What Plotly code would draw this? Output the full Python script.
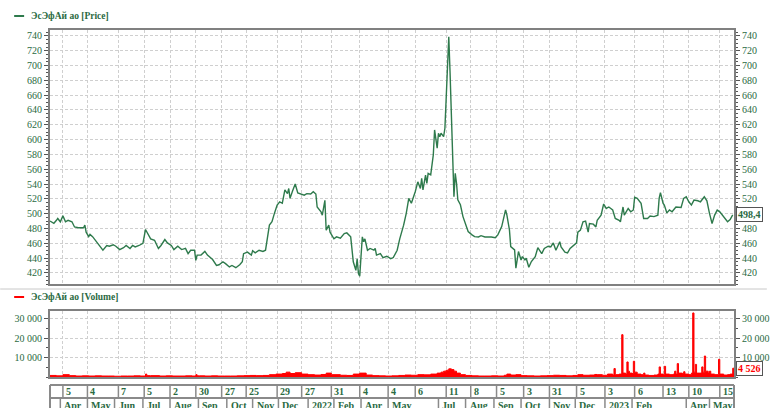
import plotly.graph_objects as go

# ---------------- data ----------------
price_day = [0,3,5,6,8,10,12,14,17,19,22,26,27,28,30,31,33,36,39,41,44,46,49,51,54,57,59,62,64,66,69,72,74,76,78,81,84,86,89,91,94,96,99,102,105,107,109,112,113,114,117,120,122,126,129,131,134,136,139,141,144,147,149,150,153,156,157,159,162,165,167,170,172,174,176,178,180,182,184,185,186,188,190,192,194,197,199,202,204,206,207,210,211,212,213,214,216,217,220,222,225,228,230,233,234,235,237,238,239,240,241,242,243,244,246,248,251,252,253,256,258,261,264,266,269,271,274,276,278,280,283,285,287,288,289,291,292,293,295,296,297,298,300,301,302,303,305,306,307,308,309,310,311,312,313,314,315,316,317,318,320,322,324,327,329,332,334,337,340,342,345,347,350,352,353,354,356,357,360,361,363,365,366,368,369,371,373,376,378,381,383,386,388,390,392,395,396,399,401,403,406,408,409,411,413,415,417,418,421,423,424,427,429,431,433,436,438,441,442,444,445,448,450,452,453,455,458,460,463,465,468,471,472,473,475,476,478,480,482,485,489,491,493,495,497,499,502,504,507,509,511,512,513,515,517,519,522,525,527,529]
price_val = [490,487,491,493.5,489,497,489,491,489,482,481,481,484.5,475,469,472,469,462,456,450.6,457,456,458,456,451.5,454,457,453,457,455,457,460,478.6,473,466,464,453,457,465,460.5,457,451.5,456,451.5,453,446,450.6,450.6,437,444,444,449,444,438,430,431,435,432.5,428,430,427,431,435,446,448,444,450,447,450.6,449,450.6,484.5,489,501,511.6,516,514,532,527,534,520.6,531,540,528,527,525,527,526.5,529.6,526.5,509,502.5,498,509,518,477.7,484.5,475,466,468.7,467,473,474,468.7,453,435,423.5,439,419,415.4,442.5,468.7,462,466,450.6,453,450.6,453,444,446,440.7,442.5,439.3,440.7,450.6,466,484.5,500,520.6,514,529.6,543,534,547.7,532,552,541,554.4,552.3,565.8,579.3,613,588.3,608.6,604,608.6,604,615.3,658,715,739,689.6,631,577,523,554.6,541,518.6,514,512,496,484.8,475.8,471.3,469,468.5,470.3,468.5,469,468.5,467.4,471.3,482.6,496,505,498.3,478,455.5,451,426.3,448.8,437.5,442,437.5,439.7,427.6,435.3,442,454,446,453,456,455,460.5,450.6,462,455,448,447,453,457,460.5,475,477.7,489,490,475,486.7,485.8,482,491,498,513,507,509,505,493.5,491,489,509,498,507,502.5,505,522,520.6,514,493.5,493.5,496.7,496,498,520.6,528.3,514,511.6,501,505,502.5,509,508.4,520.6,522.8,516,511.6,518.3,517.4,516,522.8,517.4,500.3,491,486.7,498,504.8,502.5,495.8,489,492,498.4]

vol_day = [0,5,10,15,20,25,30,35,40,45,50,55,60,65,70,74,75,78,85,90,95,100,105,110,113,114,116,120,125,130,135,140,145,150,155,160,165,170,175,180,183,186,190,195,200,205,210,214,218,225,230,235,240,245,250,255,260,265,270,275,280,285,290,295,300,303,305,307,309,311,313,315,318,322,327,332,337,342,347,352,354,357,361,365,370,375,380,385,390,395,400,405,409,413,418,422,424,428,432,436,437,438,441,443,444,446,447,448,449,451,452,453,455,458,460,461,464,468,471,472,473,475,476,477,480,483,484,485,486,487,490,491,492,495,497,498,499,500,501,503,505,506,507,508,510,511,512,515,518,519,522,525,527,529,530]
vol_val = [800,600,1200,700,500,600,500,600,500,500,400,500,500,600,500,1500,700,700,500,600,500,500,600,500,1200,600,600,500,600,500,500,500,600,700,800,700,800,1200,1500,1800,2500,1800,2200,1500,1200,1000,1300,2000,1200,900,800,1500,2000,1000,700,600,500,600,800,1000,900,1200,1100,1500,2000,2500,3000,3500,4200,3800,3000,2000,1200,800,600,500,500,600,500,900,1500,1000,1200,700,600,500,600,700,900,800,600,800,1200,900,1000,1300,1200,900,1500,1000,4350,1200,1500,21800,2000,1500,7750,3000,2000,1800,8100,2500,1500,1200,2000,1000,800,1000,1500,5200,1500,1200,5500,1500,1200,1500,3000,1500,6900,2000,1800,2700,1500,1200,2000,33000,2500,6500,2000,2000,5200,2500,10800,3000,2000,3000,1500,1200,9100,1500,1000,1200,1500,4526,4526]

day_tick_day = [10,29,53,73,93,113,133,152,176,195,218,240,262,283,307,326,346,367,387,408,430,453,475,495,519]
day_tick_text = ["5","4","7","5","2","30","27","25","29","27","31","4","4","6","11","8","5","3","31","5","3","6","13","10","15"]
month_day = [8,29,50,72,93,115,137,157,177,200,220,241,262,301,322,344,365,387,407,430,451,493,511]
month_text = ["Apr","May","Jun","Jul","Aug","Sep","Oct","Nov","Dec","2022","Feb","Apr","May","Jul","Aug","Sep","Oct","Nov","Dec","2023","Feb","Apr","May"]

price_ticks = list(range(420, 741, 20))
vol_ticks = [10000, 20000, 30000]
vol_tick_text = ["10 000", "20 000", "30 000"]

series_name = "ЭсЭфАй ао"
last_price_text = "498,4"
last_vol_text = "4 526"

# ---------------- styles ----------------
W, H = 770, 408
GREEN = "#2e7a4c"
TXT = "#2a6a42"
RED = "#ff0000"
FRAME = "#808080"
GRID = "#cfcfcf"
FONT = "Liberation Serif"

def py(px):
    return 1 - px / H

price_dom = [py(284), py(30)]
vol_dom = [py(377), py(311)]
XR = [0, 530]
PR = [405, 748]
VR = [0, 34000]

fig = go.Figure()
fig.add_trace(go.Scatter(x=price_day, y=price_val, mode="lines",
                         line=dict(color=GREEN, width=1.4), xaxis="x", yaxis="y",
                         showlegend=False, hoverinfo="skip"))
fig.add_trace(go.Scatter(x=vol_day, y=vol_val, mode="lines", line_shape="hv",
                         line=dict(color=RED, width=1), fill="tozeroy",
                         fillcolor=RED, xaxis="x2", yaxis="y2",
                         showlegend=False, hoverinfo="skip"))
# helper traces so right-side axes are drawn
fig.add_trace(go.Scatter(x=[price_day[0]], y=[price_val[0]], mode="markers", opacity=0,
                         xaxis="x", yaxis="y3", showlegend=False, hoverinfo="skip"))
fig.add_trace(go.Scatter(x=[vol_day[0]], y=[vol_val[0]], mode="markers", opacity=0,
                         xaxis="x2", yaxis="y4", showlegend=False, hoverinfo="skip"))

tickfont = dict(family=FONT, size=10, color=TXT)
common_y = dict(showline=True, linecolor=FRAME, linewidth=2, ticks="outside",
                ticklen=4, tickcolor="#555", tickwidth=1, tickfont=tickfont,
                zeroline=False, fixedrange=True)
grid = dict(showgrid=True, gridcolor=GRID, griddash="3px,2px", gridwidth=1)
common_x = dict(range=XR, showline=True, linecolor=FRAME, linewidth=2, mirror=True,
                tickvals=day_tick_day, showticklabels=False, ticks="",
                zeroline=False, **grid)

def minor(dt):
    return dict(dtick=dt, ticklen=2, tickcolor="#555", ticks="outside", showgrid=False)

fig.update_layout(
    width=W, height=H, margin=dict(l=50, r=33, t=0, b=0),
    paper_bgcolor="white", plot_bgcolor="white", hovermode=False,
    xaxis=dict(domain=[0, 1], anchor="y", **common_x),
    xaxis2=dict(domain=[0, 1], anchor="y2", **common_x),
    yaxis=dict(domain=price_dom, anchor="x", range=PR, tickvals=price_ticks,
               minor=minor(5), mirror=True, **common_y, **grid),
    yaxis3=dict(overlaying="y", side="right", anchor="x", range=PR, tickvals=price_ticks,
                minor=minor(5), showgrid=False, **common_y),
    yaxis2=dict(domain=vol_dom, anchor="x2", range=VR, tickvals=vol_ticks, ticktext=vol_tick_text,
                minor=minor(5000), mirror=True, **common_y, **grid),
    yaxis4=dict(overlaying="y2", side="right", anchor="x2", range=VR, tickvals=vol_ticks,
                ticktext=vol_tick_text, minor=minor(5000), showgrid=False, **common_y),
)

shapes = []
annotations = []

# legends
for (ypx, col, label) in [(16, GREEN, series_name + " [Price]"), (297, RED, series_name + " [Volume]")]:
    shapes.append(dict(type="line", xref="paper", yref="paper", x0=-36/687, x1=-26/687,
                       y0=py(ypx), y1=py(ypx), line=dict(color=col, width=2)))
    annotations.append(dict(xref="paper", yref="paper", x=-21/687, y=py(ypx), xanchor="left",
                            yanchor="middle", text="<b>%s</b>" % label, showarrow=False,
                            font=dict(family=FONT, size=9.5, color=TXT)))

# separator between panels
shapes.append(dict(type="line", xref="paper", yref="paper", x0=-50/687, x1=720/687,
                   y0=py(289), y1=py(289), line=dict(color="#c8c8c8", width=1)))

# last value labels
annotations.append(dict(xref="paper", yref="y", x=1, y=price_val[-1], xanchor="left",
                        yanchor="middle", xshift=2, text="<b>%s</b>" % last_price_text,
                        showarrow=False, font=dict(family=FONT, size=10, color=TXT),
                        bgcolor="white", bordercolor="#555", borderwidth=1, borderpad=1))
annotations.append(dict(xref="paper", yref="y2", x=1, y=vol_val[-1], xanchor="left",
                        yanchor="middle", xshift=2, text="<b>%s</b>" % last_vol_text,
                        showarrow=False, font=dict(family=FONT, size=10, color=RED),
                        bgcolor="white", bordercolor="#555", borderwidth=1, borderpad=1))

# bottom date table
y_top, y_mid, y_bot = py(385), py(398), py(412)
BC = "#8a8a8a"
for yy in (y_top, y_mid):
    shapes.append(dict(type="line", xref="paper", yref="paper", x0=0, x1=1, y0=yy, y1=yy,
                       line=dict(color=BC, width=2)))
for xx in (0, 1):
    shapes.append(dict(type="line", xref="paper", yref="paper", x0=xx, x1=xx, y0=y_top, y1=y_bot,
                       line=dict(color=BC, width=2)))
for d, t in zip(day_tick_day, day_tick_text):
    shapes.append(dict(type="line", xref="x2", yref="paper", x0=d, x1=d, y0=y_top, y1=y_mid,
                       line=dict(color=BC, width=1.5)))
    annotations.append(dict(xref="x2", yref="paper", x=d, y=py(391.5), xanchor="left",
                            yanchor="middle", xshift=1, text="<b>%s</b>" % t, showarrow=False,
                            font=dict(family=FONT, size=10, color=TXT)))
for d, t in zip(month_day, month_text):
    shapes.append(dict(type="line", xref="x2", yref="paper", x0=d, x1=d, y0=y_mid, y1=y_bot,
                       line=dict(color=BC, width=1.5)))
    annotations.append(dict(xref="x2", yref="paper", x=d, y=py(405), xanchor="left",
                            yanchor="middle", xshift=2, text="<b>%s</b>" % t, showarrow=False,
                            font=dict(family=FONT, size=10, color=TXT)))

fig.update_layout(shapes=shapes, annotations=annotations)
fig.write_html("out.html", config={"displayModeBar": False, "staticPlot": True},
               post_script="document.body.style.margin='0';document.body.style.overflow='hidden';")
